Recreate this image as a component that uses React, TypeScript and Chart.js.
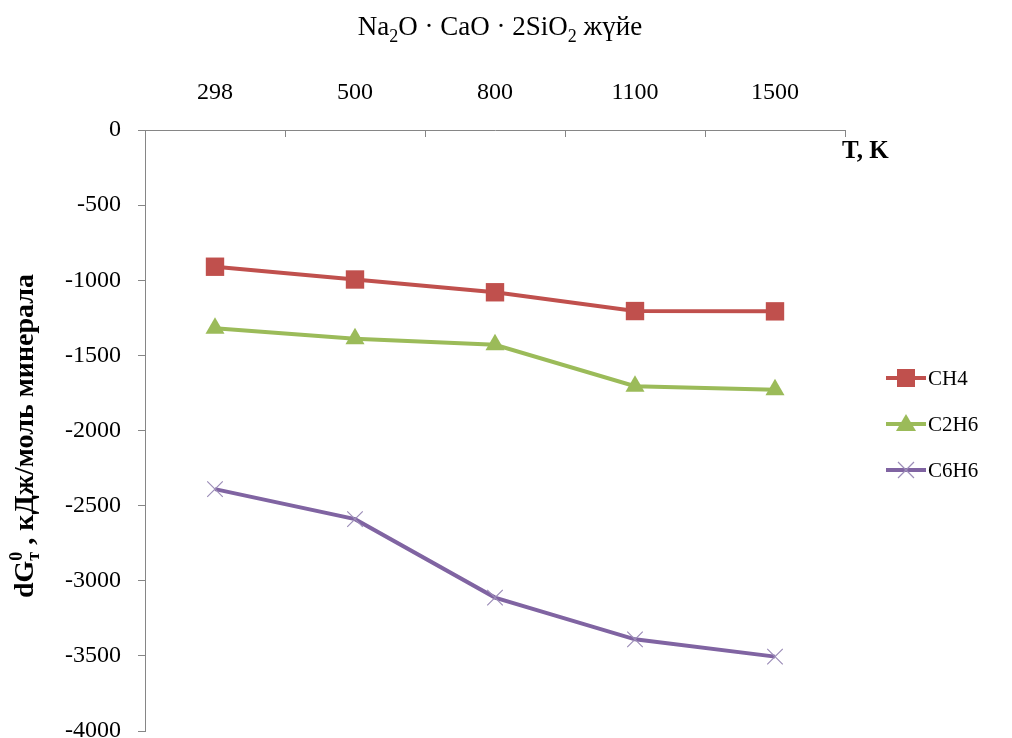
import React, { useEffect, useRef } from 'react';
import { Chart, registerables } from 'chart.js';

Chart.register(...registerables);

// Temperature categories (K)
const categories = ['298', '500', '800', '1100', '1500'];

// Gibbs energy change, kJ per mole of mineral
const ch4 = [-910, -995, -1080, -1205, -1207];
const c2h6 = [-1320, -1390, -1430, -1705, -1728];
const c6h6 = [-2390, -2590, -3112, -3390, -3505];

const seriesNames = ['CH4', 'C2H6', 'C6H6'];
const seriesColors = ['#C0504D', '#9BBB59', '#8064A2'];

const yMin = -4000;
const yMax = 0;
const yStep = 500;

const FONT = "'Liberation Serif', 'Times New Roman', serif";
const AXIS_GRAY = '#868686';

type Seg = { text: string; size: number; dy?: number; bold?: boolean; noAdvance?: boolean };

function segFont(s: Seg) {
  return `${s.bold ? 'bold ' : ''}${s.size}px ${FONT}`;
}

// Draws a run of text pieces (sub/superscripts) centred horizontally on x.
function drawRich(ctx: CanvasRenderingContext2D, segs: Seg[], x: number, y: number) {
  let total = 0;
  let pending = 0;
  for (const s of segs) {
    ctx.font = segFont(s);
    const w = ctx.measureText(s.text).width;
    if (s.noAdvance) {
      pending = Math.max(pending, w);
    } else {
      total += Math.max(w, pending);
      pending = 0;
    }
  }
  total += pending;
  let cx = x - total / 2;
  pending = 0;
  ctx.textAlign = 'left';
  ctx.textBaseline = 'alphabetic';
  for (const s of segs) {
    ctx.font = segFont(s);
    const w = ctx.measureText(s.text).width;
    ctx.fillText(s.text, cx, y + (s.dy || 0));
    if (s.noAdvance) {
      pending = Math.max(pending, w);
    } else {
      cx += Math.max(w, pending);
      pending = 0;
    }
  }
}

function drawMarker(ctx: CanvasRenderingContext2D, kind: number, x: number, y: number, color: string) {
  ctx.save();
  if (kind === 0) {
    ctx.fillStyle = color;
    ctx.fillRect(x - 9, y - 9, 18, 18);
  } else if (kind === 1) {
    ctx.fillStyle = color;
    ctx.beginPath();
    ctx.moveTo(x, y - 10);
    ctx.lineTo(x + 10, y + 7);
    ctx.lineTo(x - 10, y + 7);
    ctx.closePath();
    ctx.fill();
  } else {
    ctx.strokeStyle = '#9C8DB8';
    ctx.lineWidth = 1.2;
    ctx.beginPath();
    ctx.moveTo(x - 8, y - 8);
    ctx.lineTo(x + 8, y + 8);
    ctx.moveTo(x + 8, y - 8);
    ctx.lineTo(x - 8, y + 8);
    ctx.stroke();
  }
  ctx.restore();
}

const decorPlugin = {
  id: 'decor',
  afterDraw(chart: any) {
    const ctx: CanvasRenderingContext2D = chart.ctx;
    const area = chart.chartArea;
    ctx.save();
    ctx.fillStyle = '#000';

    // Title with chemical subscripts
    drawRich(
      ctx,
      [
        { text: 'Na', size: 27 },
        { text: '2', size: 18, dy: 7 },
        { text: 'O · CaO · 2SiO', size: 27 },
        { text: '2', size: 18, dy: 7 },
        { text: ' жүйе', size: 27 },
      ],
      500,
      35
    );

    // Category axis title
    ctx.font = `bold 25px ${FONT}`;
    ctx.textAlign = 'left';
    ctx.textBaseline = 'middle';
    ctx.fillText('T, K', 842, 152);

    // Value axis title (rotated)
    ctx.save();
    ctx.translate(33, 436);
    ctx.rotate(-Math.PI / 2);
    drawRich(
      ctx,
      [
        { text: 'dG', size: 28, bold: true },
        { text: '0', size: 18, bold: true, dy: -11, noAdvance: true },
        { text: 'т', size: 18, bold: true, dy: 6 },
        { text: ' , кДж/моль минерала', size: 28, bold: true },
      ],
      0,
      0
    );
    ctx.restore();

    // Inward tick marks between categories on the top axis
    const xs = chart.scales.x;
    const n = categories.length;
    ctx.strokeStyle = AXIS_GRAY;
    ctx.lineWidth = 1;
    ctx.beginPath();
    for (let i = 0; i <= n; i++) {
      const px = Math.round(xs.left + (i * (xs.right - xs.left)) / n) + 0.5;
      ctx.moveTo(px, area.top);
      ctx.lineTo(px, area.top + 7);
    }
    ctx.stroke();

    // Legend
    const ly = [378, 424, 470];
    chart.data.datasets.forEach((ds: any, i: number) => {
      const y = ly[i];
      ctx.strokeStyle = seriesColors[i];
      ctx.lineWidth = 4;
      ctx.beginPath();
      ctx.moveTo(886, y);
      ctx.lineTo(926, y);
      ctx.stroke();
      drawMarker(ctx, i, 906, y, seriesColors[i]);
      ctx.fillStyle = '#000';
      ctx.font = `21px ${FONT}`;
      ctx.textAlign = 'left';
      ctx.textBaseline = 'middle';
      ctx.fillText(ds.label, 928, y + 1);
    });
    ctx.restore();
  },
};

export default function App() {
  const ref = useRef<HTMLCanvasElement | null>(null);

  useEffect(() => {
    if (!ref.current) return;
    const chart = new Chart(ref.current, {
      type: 'line',
      data: {
        labels: categories,
        datasets: [
          {
            label: seriesNames[0],
            data: ch4,
            borderColor: seriesColors[0],
            backgroundColor: seriesColors[0],
            borderWidth: 4,
            pointStyle: 'rect',
            pointRadius: 13,
            pointBorderWidth: 0,
            pointBackgroundColor: seriesColors[0],
          },
          {
            label: seriesNames[1],
            data: c2h6,
            borderColor: seriesColors[1],
            backgroundColor: seriesColors[1],
            borderWidth: 4,
            pointStyle: 'triangle',
            pointRadius: 11,
            pointBorderWidth: 0,
            pointBackgroundColor: seriesColors[1],
          },
          {
            label: seriesNames[2],
            data: c6h6,
            borderColor: seriesColors[2],
            backgroundColor: seriesColors[2],
            borderWidth: 4,
            pointStyle: 'crossRot',
            pointRadius: 11,
            pointBorderWidth: 1.2,
            pointBorderColor: '#9C8DB8',
          },
        ],
      },
      options: {
        responsive: false,
        animation: false,
        layout: { padding: { left: 0, top: 0, right: 167, bottom: 0 } },
        plugins: {
          legend: { display: false },
          tooltip: { enabled: false },
          title: { display: false },
        },
        scales: {
          x: {
            type: 'category',
            position: 'top',
            offset: true,
            grid: { offset: true, drawOnChartArea: false, drawTicks: false },
            border: { display: true, color: AXIS_GRAY, width: 1 },
            ticks: { color: '#000', font: { family: FONT, size: 24 }, padding: 23, maxRotation: 0 },
            afterFit: (s: any) => {
              s.height = 130;
              s.paddingLeft = 0;
              s.paddingRight = 0;
            },
          },
          y: {
            min: yMin,
            max: yMax,
            ticks: {
              stepSize: yStep,
              color: '#000',
              font: { family: FONT, size: 24 },
              padding: 17,
              callback: (v: any) => String(v),
            },
            grid: { drawOnChartArea: false, tickLength: 7, color: AXIS_GRAY },
            border: { display: true, color: AXIS_GRAY, width: 1 },
            afterFit: (s: any) => {
              s.width = 145;
              s.paddingTop = 0;
              s.paddingBottom = 0;
            },
          },
        },
      },
      plugins: [decorPlugin],
    });
    return () => chart.destroy();
  }, []);

  return (
    <div
      style={{
        position: 'absolute',
        left: 0,
        top: 0,
        width: 1012,
        height: 738,
        overflow: 'hidden',
        background: '#fff',
      }}
    >
      <canvas ref={ref} width={1012} height={744} style={{ display: 'block' }} />
    </div>
  );
}
